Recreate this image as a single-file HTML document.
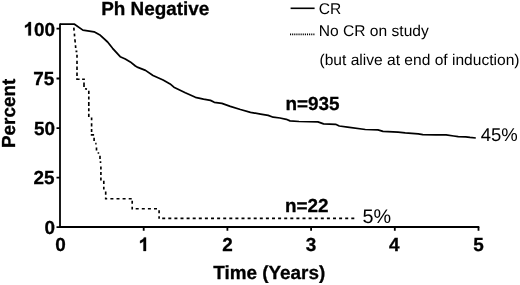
<!DOCTYPE html>
<html><head><meta charset="utf-8">
<style>
html,body{margin:0;padding:0;background:#fff;}
body{width:520px;height:285px;overflow:hidden;}
svg{display:block;will-change:transform;}
text{text-rendering:geometricPrecision;font-family:"Liberation Sans",sans-serif;fill:#000;}
.b{font-weight:bold;font-size:18.9px;stroke:#000;stroke-width:0.3px;}
.r{font-size:18.5px;}
.l{font-size:15.58px;}
</style></head><body>
<svg width="520" height="285" viewBox="0 0 520 285">
<rect width="520" height="285" fill="#fff"/>
<!-- axes -->
<g stroke="#000" stroke-width="1.8" fill="none" stroke-linecap="butt">
<path d="M60 23.4V227.8"/>
<path d="M59.2 227H479.3"/>
<path d="M56.5 28.7H60M56.5 78.5H60M56.5 128.1H60M56.5 177.6H60M56.5 227.1H60"/>
<path d="M143.7 227V230.8M227.4 227V230.8M311.1 227V230.8M394.8 227V230.8M478.5 227V230.8"/>
</g>
<!-- solid curve -->
<path fill="none" stroke="#000" stroke-width="1.75" stroke-linejoin="round" d="M60 24.2L74.5 24.2L82.9 30.1L94.1 31.8L100.4 35.3L107.6 42L112.6 48.3L120.2 56.7L125.3 59L130.3 61.9L135.4 66L137.9 67.4L145.5 70.4L153 75.5L163.1 80L170.1 83.9L173.9 87.2L185.3 92.7L195.4 97.3L203.5 99.1L210.5 100.4L214.3 102.3L221.9 103.4L230.3 106.3L240.4 109.5L250.5 112.3L260.6 114.1L268.2 115.4L273.2 117.2L280 118L286.3 119.3L290 120.9L299 121.5L317.9 121.9L323.6 123.8L335.6 124.3L339.3 126L347.6 127.2L365.3 129.5L377.9 129.8L383 131.3L398.1 132.1L405.2 132.9L418.3 133.9L422.8 134.6L436 134.8L446.1 134.9L453.7 136L458.2 136.7L465.7 136.8L470 137.4L475.8 138"/>
<!-- dotted curve -->
<path fill="none" stroke="#000" stroke-width="1.65" d="M73.8 27.6L74.1 30.7M74.4 33.6L74.6 36.4M74.9 39.2L75.2 42.5M75.5 45.3L75.7 48M75.5 51.4H77.4M77 54.8V57.8M77 60.7V63.9M77 66.4V70M77 72.5V75.9M77 78.3V79.2H79.6M82.1 79.2H84.9M84 82.6V87M85 88.7L87 89.1M88.8 90.8V93.9M88.8 96.5V99.6M88.8 102.1V105.9M88.8 108.3V111.2M88.8 113.8V117M91.6 117.6V120.3M91.6 123.3V126.5M91.6 129V132.1M91.6 134V134.9H94.1M94.1 137.8V141M95.2 143.6H96.6M96.5 147.4V150.4M97.6 153H99.2M100 155.8V159M100.5 161.3V163M100.9 166.4V169.5M100.9 172V175.1M100.9 177.6V180.4M103.8 180.8V184M103.8 186.7V189.6M105.7 191.5V194.7M105.7 197.6V198.7H107.2"/>
<path fill="none" stroke="#000" stroke-width="1.65" stroke-dasharray="3 3.1" d="M110.4 198.7H132.2M132.2 200.7V209.6M135.7 208.7H159.1M159.1 210.2V218.8M162.2 218.4H354.5"/>
<!-- legend -->
<path d="M290.6 8.3H314.6" stroke="#000" stroke-width="1.6"/>
<path d="M290 34.4H314.8" stroke="#000" stroke-width="1.6" stroke-dasharray="1.1 1.02"/>
<text class="l" x="318.8" y="13.9">CR</text>
<text class="l" x="318.8" y="36.1">No CR on study</text>
<text class="l" x="319.5" y="64.6">(but alive at end of induction)</text>
<!-- title -->
<text class="b" x="101.2" y="15.3">Ph Negative</text>
<!-- y labels -->
<g class="b" text-anchor="end">
<text x="55" y="35.6">00</text>
<text x="54.2" y="85.3">75</text>
<text x="55" y="135">50</text>
<text x="54.6" y="184.4">25</text>
<text x="55" y="233.6">0</text>
</g>
<g class="b" text-anchor="middle">
<text x="60.5" y="251">0</text>

<text x="227.4" y="251">2</text>
<text x="311.1" y="251">3</text>
<text x="394.3" y="251">4</text>
<text x="478.5" y="251">5</text>
</g>
<g fill="#000" stroke="#000" stroke-width="32.5">
<path transform="translate(23.5 35.6) scale(0.009229 -0.009229)" d="M806 0H525V1059Q371 915 162 846V1101Q272 1137 401 1237.5Q530 1338 578 1472H806Z"/>
<path transform="translate(138.6 251) scale(0.009229 -0.009229)" d="M806 0H525V1059Q371 915 162 846V1101Q272 1137 401 1237.5Q530 1338 578 1472H806Z"/>
</g>
<text class="b" x="213.2" y="279.3">Time (Years)</text>
<text class="b" transform="translate(15.3 148) rotate(-90)">Percent</text>
<text class="b" x="285.5" y="109.8">n=935</text>
<text class="b" x="285" y="212.4">n=22</text>
<text class="r" x="480.8" y="140.8">45%</text>
<text class="r" x="362.6" y="223.4" style="font-size:19.8px">5%</text>
</svg>
</body></html>
